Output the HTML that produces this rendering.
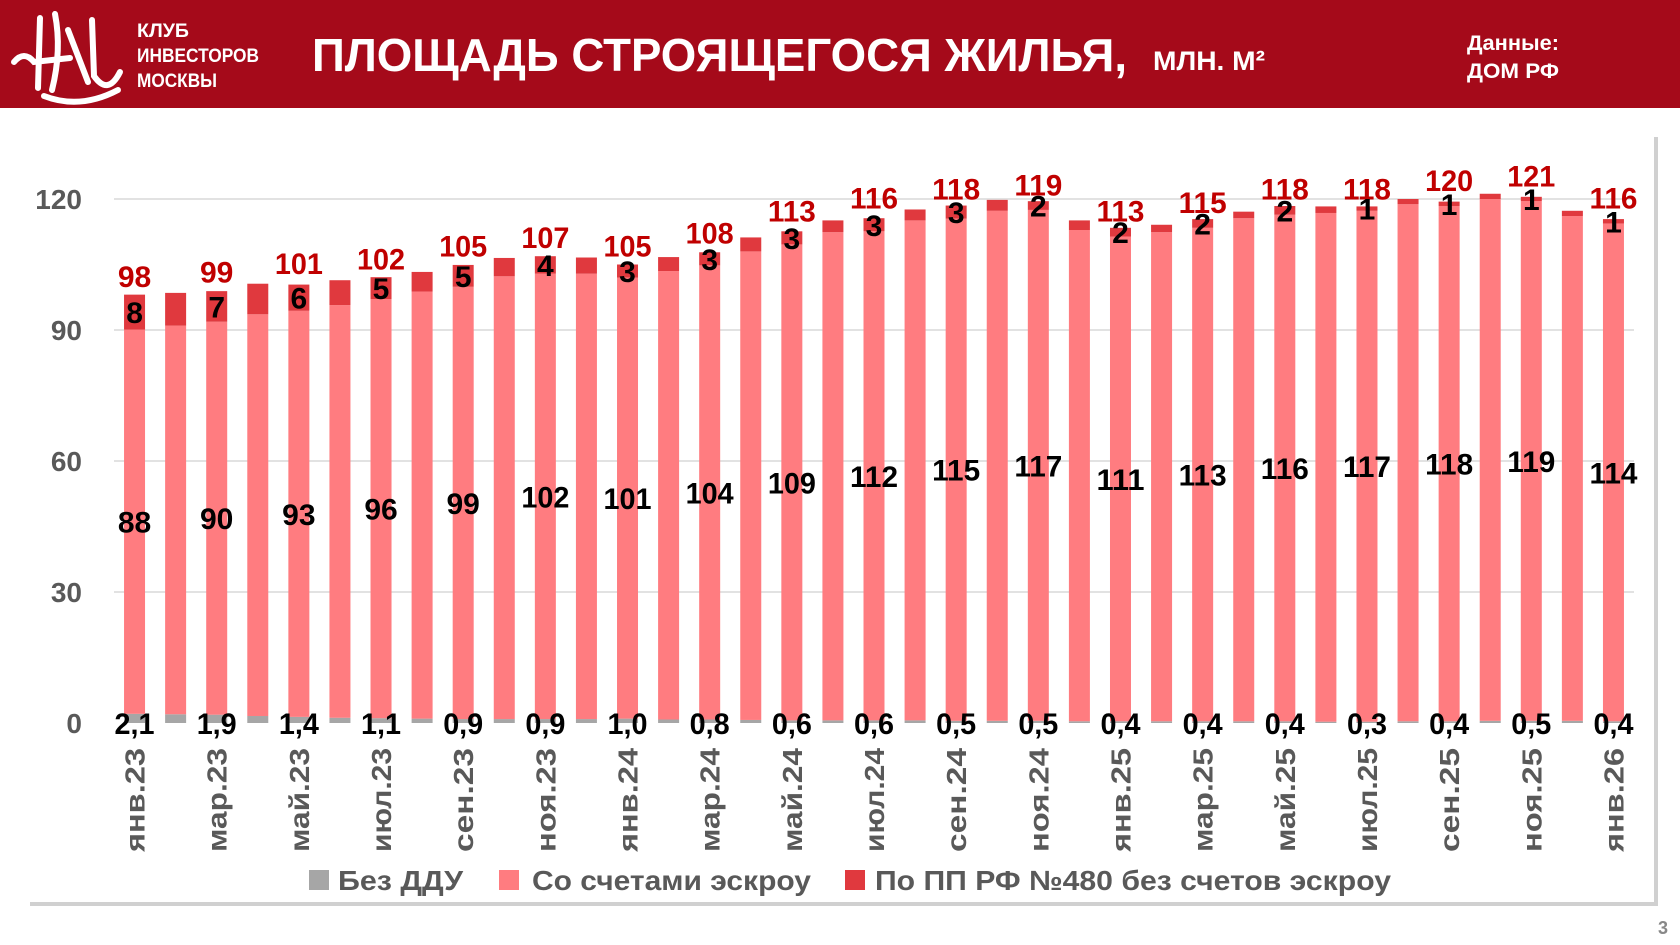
<!DOCTYPE html>
<html><head><meta charset="utf-8"><style>
html,body{margin:0;padding:0;background:#fff;}
svg{display:block;font-family:"Liberation Sans","DejaVu Sans",sans-serif;}
</style></head><body>
<svg id="chart" width="1680" height="945" viewBox="0 0 1680 945">
<rect x="0" y="0" width="1680" height="108" fill="#a50a1a"/>
<g stroke="#fff" fill="none" stroke-width="6" stroke-linecap="round">
<path d="M14 62 Q24 50 34 62 L70 58"/><path d="M40 18 L38 88"/><path d="M55 14 Q62 50 52 90"/><path d="M68 30 L88 82"/><path d="M92 20 L94 76 Q108 96 120 72"/><path d="M44 96 Q80 110 118 90"/>
</g>
<text x="137" y="37" fill="#fff" font-weight="bold" font-size="19" textLength="52" lengthAdjust="spacingAndGlyphs">КЛУБ</text>
<text x="137" y="62" fill="#fff" font-weight="bold" font-size="19" textLength="122" lengthAdjust="spacingAndGlyphs">ИНВЕСТОРОВ</text>
<text x="137" y="87" fill="#fff" font-weight="bold" font-size="19" textLength="80" lengthAdjust="spacingAndGlyphs">МОСКВЫ</text>
<text x="312" y="71" fill="#fff" font-weight="bold" font-size="46" textLength="815" lengthAdjust="spacingAndGlyphs">ПЛОЩАДЬ СТРОЯЩЕГОСЯ ЖИЛЬЯ,</text>
<text x="1153" y="70" fill="#fff" font-weight="bold" font-size="27" textLength="112" lengthAdjust="spacingAndGlyphs">МЛН. М²</text>
<text x="1467" y="50" fill="#fff" font-weight="bold" font-size="21" textLength="92" lengthAdjust="spacingAndGlyphs">Данные:</text>
<text x="1467" y="78" fill="#fff" font-weight="bold" font-size="21" textLength="92" lengthAdjust="spacingAndGlyphs">ДОМ РФ</text>
<rect x="30" y="137" width="1628" height="769" fill="#d0d0d0"/>
<rect x="26" y="133" width="1628" height="769" fill="#fff"/>
<g id="grid"></g><g id="bars"></g><g id="labels"></g>
<g>
<rect x="309" y="870" width="20" height="20" fill="#a6a6a6"/>
<text x="338" y="890" fill="#595959" font-weight="bold" font-size="28" textLength="125" lengthAdjust="spacingAndGlyphs">Без ДДУ</text>
<rect x="499" y="870" width="20" height="20" fill="#ff7c80"/>
<text x="532" y="890" fill="#595959" font-weight="bold" font-size="28" textLength="279" lengthAdjust="spacingAndGlyphs">Со счетами эскроу</text>
<rect x="845" y="870" width="20" height="20" fill="#e0393e"/>
<text x="875" y="890" fill="#595959" font-weight="bold" font-size="28" textLength="516" lengthAdjust="spacingAndGlyphs">По ПП РФ №480 без счетов эскроу</text>
</g>
<text x="1658" y="934" fill="#888" font-weight="bold" font-size="18">3</text>
</svg>
<script>
const categories=["янв.23","фев.23","мар.23","апр.23","май.23","июн.23","июл.23","авг.23","сен.23","окт.23","ноя.23","дек.23","янв.24","фев.24","мар.24","апр.24","май.24","июн.24","июл.24","авг.24","сен.24","окт.24","ноя.24","дек.24","янв.25","фев.25","мар.25","апр.25","май.25","июн.25","июл.25","авг.25","сен.25","окт.25","ноя.25","дек.25","янв.26"];
const noDdu=[2.1,2.0,1.9,1.6,1.4,1.2,1.1,1.0,0.9,0.9,0.9,0.9,1.0,0.8,0.8,0.7,0.6,0.6,0.6,0.6,0.5,0.5,0.5,0.4,0.4,0.4,0.4,0.4,0.4,0.3,0.3,0.4,0.4,0.5,0.5,0.5,0.4];
const escrow=[88,89,90,92,93,94.5,96,97.8,99,101.4,102,102,101,102.7,104,107.3,109,111.8,112,114.5,115,116.8,117,112.5,111,112,113,115.2,116,116.5,117,118.4,118,119.5,119,115.6,114];
const pp480=[8,7.5,7,7,6,5.7,5,4.5,5,4.2,4,3.7,3,3.2,3,3.2,3,2.7,3,2.5,3,2.5,2,2.2,2,1.7,2,1.5,2,1.5,1,1.2,1,1.2,1,1.2,1];
const totals=[98,98.5,99,100.6,101,101.6,102,103.3,105,106.5,107,106.7,105,106.7,108,111.2,113,115.1,116,117.6,118,119.8,119,115.1,113,114.1,115,117.1,118,118.3,118,120,120,121.2,121,117.3,116];
const noDduLabels=["2,1","1,9","1,4","1,1","0,9","0,9","1,0","0,8","0,6","0,6","0,5","0,5","0,4","0,4","0,4","0,3","0,4","0,5","0,4"];
const yTicks=[0,30,60,90,120];
const NS="http://www.w3.org/2000/svg";
const plotL=114,plotR=1634,y0=723,pxPer=131/30;
const step=(plotR-plotL)/categories.length,bw=21;
const yS=v=>y0-v*pxPer;
const xC=i=>plotL+step*(i+0.5);
function mk(tag,attrs,parent,txt){const e=document.createElementNS(NS,tag);for(const k in attrs)e.setAttribute(k,attrs[k]);if(txt!==undefined)e.textContent=txt;parent.appendChild(e);return e;}
const grid=document.getElementById('grid'),bars=document.getElementById('bars'),labels=document.getElementById('labels');
yTicks.forEach(t=>{
 if(t>0){const l=mk('line',{x1:plotL,x2:plotR,y1:yS(t),y2:yS(t),stroke:'#d9d9d9','stroke-width':1.5},grid);
 
 }
 const tx=mk('text',{x:82,y:yS(t)+10,'text-anchor':'end','font-size':28,'font-weight':'bold',fill:'#595959'},grid,String(t));
 
 
});
function numAttrs(cx,y,fill,len){const o={x:cx,y:y,'text-anchor':'middle','font-size':30,'font-weight':'bold',fill:fill};if(len){o.textLength=len;o.lengthAdjust='spacingAndGlyphs';}return o;}
categories.forEach((c,i)=>{
 const x=xC(i)-bw/2;
 const a=noDdu[i],b=escrow[i],p=pp480[i];
 const r1=mk('rect',{x:x,y:yS(a),width:bw,height:a*pxPer,fill:'#a6a6a6'},bars);
 
 
 const r2=mk('rect',{x:x,y:yS(a+b),width:bw,height:b*pxPer,fill:'#ff7c80'},bars);
 
 
 const r3=mk('rect',{x:x,y:yS(a+b+p),width:bw,height:p*pxPer,fill:'#e0393e'},bars);
 
 
 if(i%2===0){
  const k=i/2,cx=xC(i);
  const ts=String(Math.round(totals[i]));
  const t1=mk('text',numAttrs(cx,yS(totals[i])-8,'#c00000',ts.length>2?48:null),labels,ts);
  
  
  const t2=mk('text',numAttrs(cx,yS(a+b+p/2)+11,'#000',null),labels,String(Math.round(p)));
  
  
  const es=String(Math.round(b));
  const t3=mk('text',numAttrs(cx,yS(a+b/2)+11,'#000',es.length>2?48:null),labels,es);
  
  
  const t4=mk('text',numAttrs(cx,y0+11,'#000',40),labels,noDduLabels[k]);
  
  
  const t5=mk('text',{x:0,y:0,'text-anchor':'end','font-size':28,'font-weight':'bold',fill:'#595959',transform:`translate(${cx+10},748) rotate(-90)`,textLength:104,lengthAdjust:'spacingAndGlyphs'},labels,c);
  
  
 }
});
</script>
</body></html>
